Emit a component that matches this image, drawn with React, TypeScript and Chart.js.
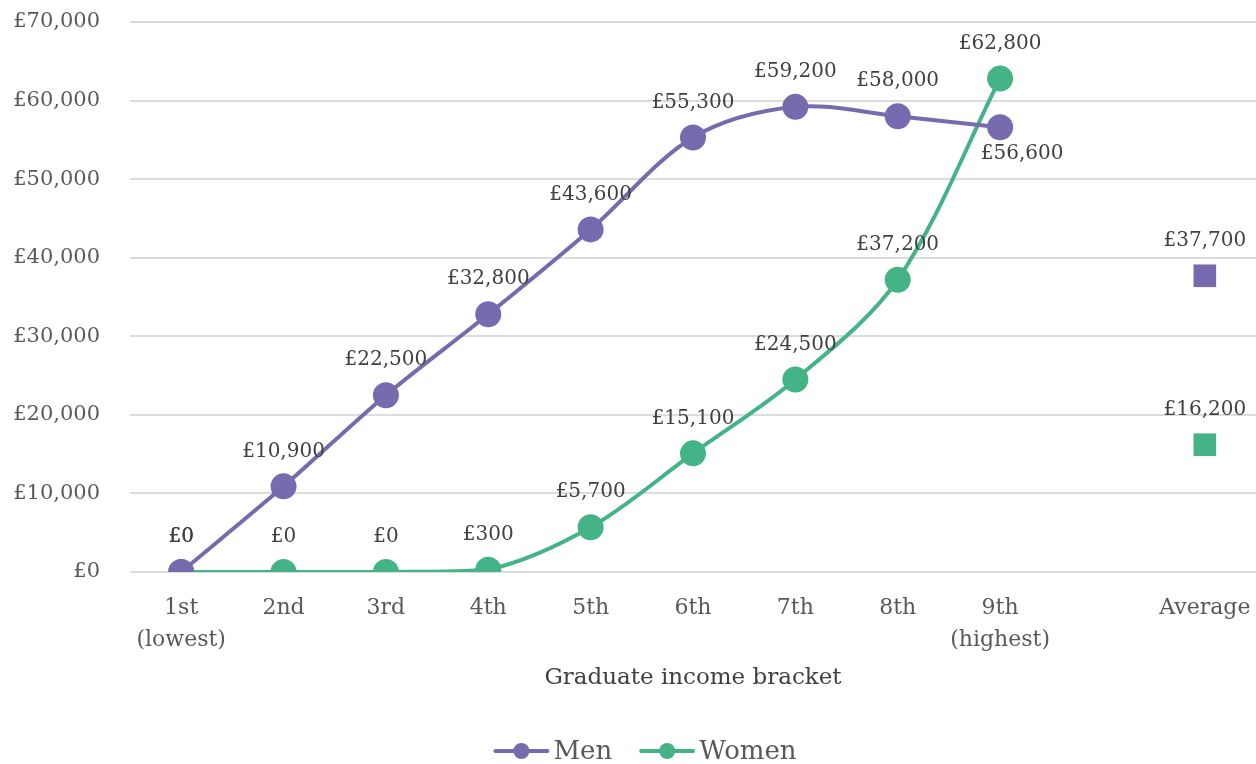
import React, { useEffect, useRef } from "react";
import { Chart, registerables } from "chart.js";

Chart.register(...registerables);

const categories: (string | string[])[] = [
  ["1st", "(lowest)"],
  "2nd",
  "3rd",
  "4th",
  "5th",
  "6th",
  "7th",
  "8th",
  ["9th", "(highest)"],
  "",
  "Average",
];

const menValues: (number | null)[] = [0, 10900, 22500, 32800, 43600, 55300, 59200, 58000, 56600, null, null];
const womenValues: (number | null)[] = [0, 0, 0, 300, 5700, 15100, 24500, 37200, 62800, null, null];
const menAverage: (number | null)[] = [null, null, null, null, null, null, null, null, null, null, 37700];
const womenAverage: (number | null)[] = [null, null, null, null, null, null, null, null, null, null, 16200];

const yTicks = [0, 10000, 20000, 30000, 40000, 50000, 60000, 70000];

const PURPLE = "#776AAF";
const GREEN = "#44B386";
const FONT = "'DejaVu Serif', serif";
const TICK_COLOR = "#595959";
const LABEL_COLOR = "#404040";

const fmt = (v: number) => "£" + v.toLocaleString("en-GB");

const dataLabelPlugin = {
  id: "dataLabels",
  afterDatasetsDraw(chart: any) {
    const ctx = chart.ctx;
    ctx.save();
    ctx.font = `20px ${FONT}`;
    ctx.fillStyle = LABEL_COLOR;
    ctx.textAlign = "center";
    ctx.textBaseline = "middle";
    chart.data.datasets.forEach((ds: any, di: number) => {
      const meta = chart.getDatasetMeta(di);
      const values = ds.data as (number | null)[];
      let lastIdx = -1;
      values.forEach((v, i) => {
        if (v !== null) lastIdx = i;
      });
      values.forEach((v, i) => {
        if (v === null) return;
        const pt = meta.data[i];
        let dx = 0;
        let dy = -35;
        if (ds.labelBelowLast && i === lastIdx) {
          dx = 22;
          dy = 27;
        }
        ctx.fillText(fmt(v), pt.x + dx, pt.y + dy);
      });
    });
    ctx.restore();
  },
};

const legendPlugin = {
  id: "customLegend",
  afterDraw(chart: any) {
    const ctx = chart.ctx;
    const items = chart.data.datasets.filter((d: any) => d.inLegend);
    ctx.save();
    ctx.font = `26px ${FONT}`;
    const lineW = 56;
    const gapText = 4;
    const gapItems = 27;
    const widths = items.map((d: any) => lineW + gapText + ctx.measureText(d.label).width);
    const total = widths.reduce((a: number, b: number) => a + b, 0) + gapItems * (items.length - 1);
    let x = chart.width / 2 + 17 - total / 2;
    const y = 751;
    items.forEach((d: any, i: number) => {
      ctx.strokeStyle = d.borderColor;
      ctx.lineWidth = 4;
      ctx.lineCap = "round";
      ctx.beginPath();
      ctx.moveTo(x + 2, y);
      ctx.lineTo(x + lineW - 2, y);
      ctx.stroke();
      ctx.fillStyle = d.borderColor;
      ctx.beginPath();
      ctx.arc(x + lineW / 2, y, 8, 0, Math.PI * 2);
      ctx.fill();
      ctx.fillStyle = TICK_COLOR;
      ctx.textAlign = "left";
      ctx.textBaseline = "middle";
      ctx.fillText(d.label, x + lineW + gapText, y + 1);
      x += widths[i] + gapItems;
    });
    ctx.restore();
  },
};

export default function App() {
  const ref = useRef<HTMLCanvasElement | null>(null);

  useEffect(() => {
    document.body.style.margin = "0";
    const canvas = ref.current;
    if (!canvas) return;
    const chart = new Chart(canvas, {
      type: "line",
      data: {
        labels: categories,
        datasets: [
          {
            label: "Men",
            data: menValues,
            borderColor: PURPLE,
            backgroundColor: PURPLE,
            pointBackgroundColor: PURPLE,
            pointBorderColor: PURPLE,
            borderWidth: 4,
            pointRadius: 11,
            pointHoverRadius: 11,
            tension: 0.33,
            spanGaps: false,
            inLegend: true,
            labelBelowLast: true,
          } as any,
          {
            label: "Women",
            data: womenValues,
            borderColor: GREEN,
            backgroundColor: GREEN,
            pointBackgroundColor: GREEN,
            pointBorderColor: GREEN,
            borderWidth: 4,
            pointRadius: 11,
            pointHoverRadius: 11,
            tension: 0.33,
            spanGaps: false,
            inLegend: true,
          } as any,
          {
            label: "Men average",
            data: menAverage,
            borderColor: PURPLE,
            backgroundColor: PURPLE,
            pointBackgroundColor: PURPLE,
            pointBorderColor: PURPLE,
            pointStyle: "rect",
            pointRadius: 16,
            pointBorderWidth: 0,
            showLine: false,
          } as any,
          {
            label: "Women average",
            data: womenAverage,
            borderColor: GREEN,
            backgroundColor: GREEN,
            pointBackgroundColor: GREEN,
            pointBorderColor: GREEN,
            pointStyle: "rect",
            pointRadius: 16,
            pointBorderWidth: 0,
            showLine: false,
          } as any,
        ],
      },
      options: {
        animation: false,
        responsive: false,
        maintainAspectRatio: false,
        layout: { autoPadding: false, padding: { top: 22, bottom: 62, left: 0, right: 0 } },
        plugins: {
          legend: { display: false },
          tooltip: { enabled: false },
        },
        scales: {
          x: {
            offset: true,
            grid: { display: false, drawTicks: false },
            border: { display: false },
            ticks: {
              color: TICK_COLOR,
              font: { family: FONT, size: 22, lineHeight: 1.45 },
              padding: 20,
              maxRotation: 0,
              autoSkip: false,
            },
            title: {
              display: true,
              text: "Graduate income bracket",
              color: LABEL_COLOR,
              font: { family: FONT, size: 23 },
              padding: { top: 0, bottom: 10 },
            },
            afterFit: (scale: any) => {
              scale.height = 130;
              scale.paddingLeft = 0;
              scale.paddingRight = 0;
            },
          },
          y: {
            min: 0,
            max: 70000,
            afterBuildTicks: (scale: any) => {
              scale.ticks = yTicks.map((v) => ({ value: v }));
            },
            grid: { color: "#DCDCDC", lineWidth: 2, drawTicks: false },
            border: { display: false },
            ticks: {
              color: TICK_COLOR,
              font: { family: FONT, size: 21 },
              padding: 30,
              callback: (v: any) => fmt(Number(v)),
            },
            afterFit: (scale: any) => {
              scale.width = 130;
              scale.paddingTop = 0;
              scale.paddingBottom = 0;
            },
          },
        },
      } as any,
      plugins: [dataLabelPlugin, legendPlugin],
    });
    return () => chart.destroy();
  }, []);

  return (
    <div style={{ width: 1256, height: 764 }}>
      <canvas ref={ref} width={1256} height={764} style={{ width: 1256, height: 764, display: "block" }} />
    </div>
  );
}
